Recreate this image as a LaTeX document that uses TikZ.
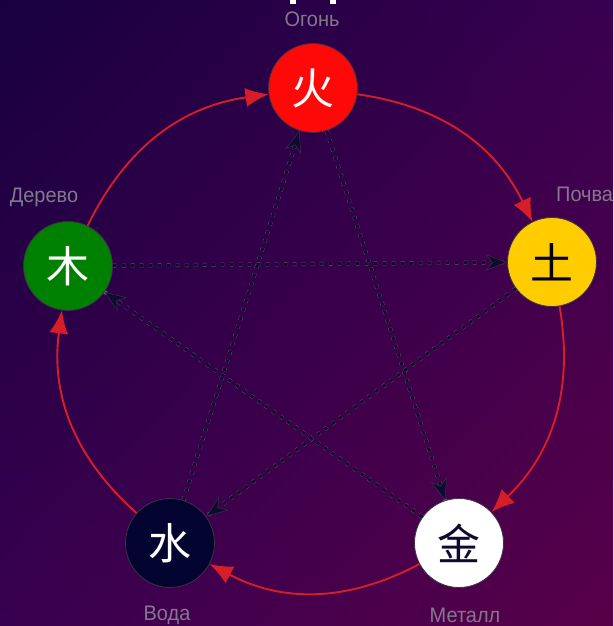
\documentclass[tikz,border=0pt]{standalone}
\usepackage{fontspec}
\newfontfamily\cjk{Noto Sans CJK SC}
\newfontfamily\labfont{Liberation Sans}
\usetikzlibrary{arrows.meta,shadings}
\definecolor{bgA}{RGB}{24,0,62}
\definecolor{bgB}{RGB}{56,0,80}
\definecolor{bgC}{RGB}{88,0,72}
\definecolor{firered}{RGB}{255,8,8}
\definecolor{earthgold}{RGB}{255,204,0}
\definecolor{woodgreen}{RGB}{0,128,0}
\definecolor{waternavy}{RGB}{4,4,48}
\definecolor{arcred}{RGB}{214,30,40}
\definecolor{dotnavy}{RGB}{14,10,48}
\definecolor{dotrim}{RGB}{100,90,120}
\definecolor{tiprim}{RGB}{50,44,70}
\definecolor{labgray}{RGB}{130,122,140}
\definecolor{rimgray}{RGB}{60,50,70}
\tikzset{
  element/.style={circle, minimum size=89pt, inner sep=0pt, draw=rimgray, line width=0.8pt, font=\cjk\fontsize{43}{43}\selectfont},
  lab/.style={text=labgray, font=\labfont\fontsize{21}{21}\selectfont, inner sep=0pt},
  gen/.style={draw=arcred, line width=1.9pt, -{Latex[length=23pt,width=19pt]}, bend left=28},
  ctrl/.style={draw=dotnavy, line width=3.2pt, dash pattern=on 3.5pt off 5.5pt,
    preaction={draw=dotrim, line width=4pt, dash pattern=on 3.5pt off 5.5pt, -},
    -{Stealth[length=22pt,width=17pt,inset=7pt,fill=dotnavy,color=tiprim,line width=0.6pt]}}
}
\begin{document}
\begin{tikzpicture}[x=1pt,y=1pt]
\useasboundingbox (0,0) rectangle (613,626);
\shade[upper left=bgA, upper right=bgB, lower left=bgB, lower right=bgC] (0,0) rectangle (613,626);
% partial title marks at the top edge
\fill[white] (290,622) rectangle (296,626);
\fill[white] (330,622) rectangle (336,626);

\node[element, fill=firered, text=white] (fire) at (313,538) {火};
\node[element, fill=earthgold, text=black] (earth) at (552,364) {土};
\node[element, fill=woodgreen, text=white] (wood) at (68,360) {木};
\node[element, fill=waternavy, text=white] (water) at (170,83) {水};
\node[element, fill=white, text=dotnavy] (metal) at (459,83) {金};

\node[lab] (lfire) at (312,607) {\scalebox{0.95}[1]{Огонь}};
\node[lab, anchor=west] (learth) at (556,432) {\scalebox{0.95}[1]{Почва}};
\node[lab] (lwood) at (44,429) {\scalebox{0.95}[1]{Дерево}};
\node[lab] (lwater) at (167,11) {\scalebox{0.95}[1]{Вода}};
\node[lab] (lmetal) at (465,11) {\scalebox{0.95}[1]{Металл}};

% generating cycle
\draw[gen] (wood) to (fire);
\draw[gen] (fire) to (earth);
\draw[gen] (earth) to (metal);
\draw[gen] (metal) to (water);
\draw[gen] (water) to (wood);

% controlling cycle
\draw[ctrl] (wood) -- (earth);
\draw[ctrl] (fire) -- (metal);
\draw[ctrl] (earth) -- (water);
\draw[ctrl] (metal) -- (wood);
\draw[ctrl] (water) -- (fire);
\end{tikzpicture}
\end{document}
